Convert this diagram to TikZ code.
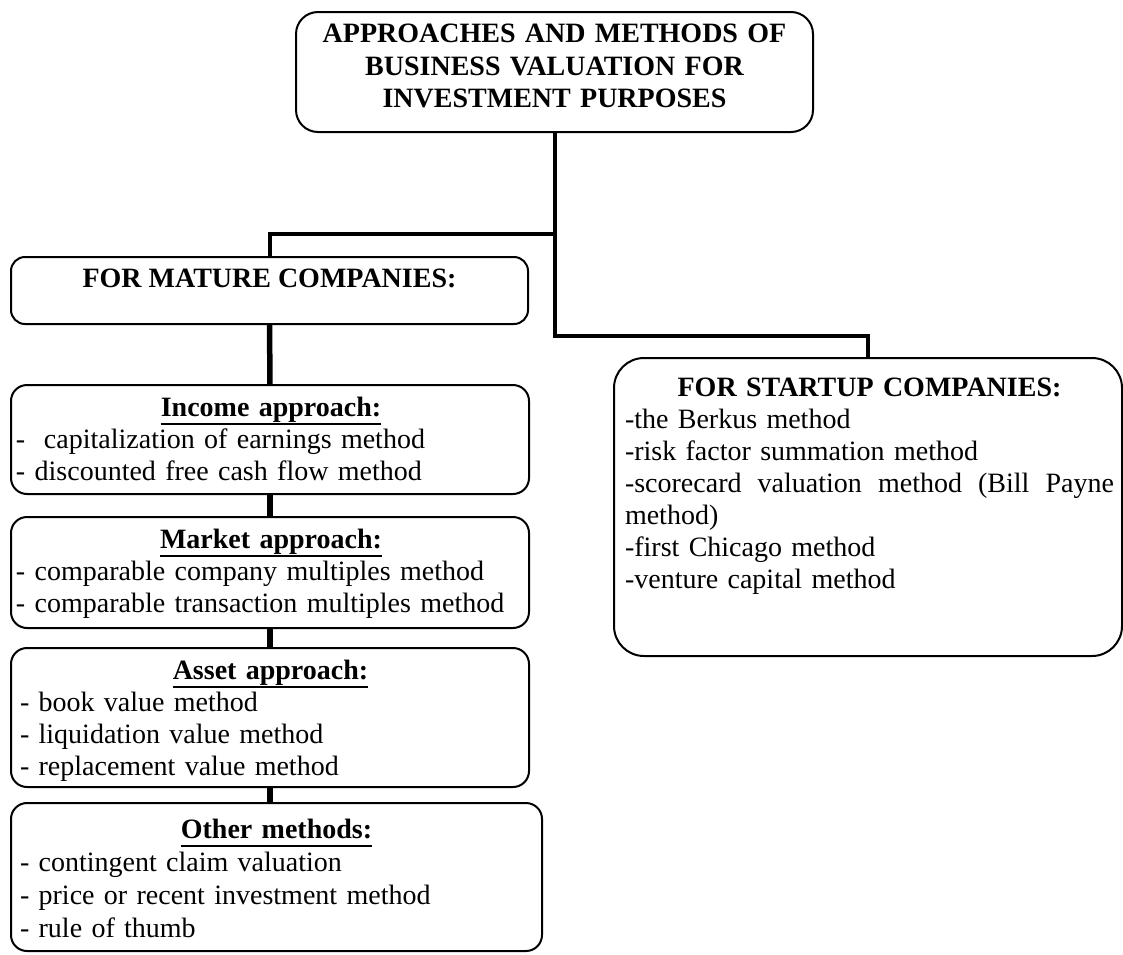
\documentclass[tikz,border=0pt]{standalone}
\usepackage{fontspec}
\setmainfont{Liberation Serif}
\newsavebox\ulsave
\newcommand\ulbox[1]{\sbox\ulsave{#1}\rlap{\rule[-8.5pt]{\wd\ulsave}{1.8pt}}\usebox\ulsave}
\tikzset{
  box/.style={draw, line width=2pt, rounded corners=16pt, inner sep=0pt, outer sep=0pt, anchor=north west},
  conn/.style={line width=4pt},
  stem/.style={line width=5.5pt},
  txt/.style={inner sep=0pt, outer sep=0pt, align=left, font=\fontsize{28}{32}\selectfont},
}
\begin{document}
\begin{tikzpicture}[x=1pt,y=-1pt]
\fill[white] (0,0) rectangle (1123,954);
\useasboundingbox (0,0) rectangle (1123,954);

% boxes
\node[box, rounded corners=22pt, minimum width=517pt, minimum height=120pt] (top) at (296,12) {};
\node[box, rounded corners=14pt, minimum width=517pt, minimum height=67pt] (mature) at (11,257) {};
\node[box, minimum width=518pt, minimum height=109pt] (income) at (11,385) {};
\node[box, minimum width=518pt, minimum height=111pt] (market) at (11,517) {};
\node[box, minimum width=518pt, minimum height=139pt] (asset) at (11,648) {};
\node[box, minimum width=531pt, minimum height=148pt] (other) at (11,803) {};
\node[box, rounded corners=30pt, minimum width=508pt, minimum height=298pt] (startup) at (614,358) {};

% texts
\node[txt, anchor=north, text width=510pt, align=center, font=\fontsize{28}{32.5}\selectfont\bfseries] (top-t) at (554.5,20)
  {\strut APPROACHES AND METHODS OF\\BUSINESS VALUATION FOR\\INVESTMENT PURPOSES};
\node[txt, anchor=north, font=\fontsize{28}{32}\selectfont\bfseries] (mature-t) at (269.5,264.6)
  {\strut FOR MATURE COMPANIES:};
\node[txt, anchor=north west, text width=510pt] (income-t) at (16,394.1)
  {\strut\makebox[\linewidth]{\ulbox{\textbf{Income approach:}}}\\
   -\ \ capitalization of earnings method\\
   - discounted free cash flow method};
\node[txt, anchor=north west, text width=510pt] (market-t) at (16,526.1)
  {\strut\makebox[\linewidth]{\ulbox{\textbf{Market approach:}}}\\
   - comparable company multiples method\\
   - comparable transaction multiples method};
\node[txt, anchor=north west, text width=505pt] (asset-t) at (20,657.1)
  {\strut\makebox[\linewidth][c]{\hspace*{-4pt}\ulbox{\textbf{Asset approach:}}}\\
   - book value method\\
   - liquidation value method\\
   - replacement value method};
\node[txt, anchor=north west, text width=513pt, font=\fontsize{28}{33}\selectfont] (other-t) at (20,815.5)
  {\strut\makebox[\linewidth]{\ulbox{\textbf{Other methods:}}}\\
   - contingent claim valuation\\
   - price or recent investment method\\
   - rule of thumb};
\node[txt, anchor=north west, text width=489pt] (startup-t) at (625,374.1)
  {\strut\makebox[\linewidth]{\textbf{FOR STARTUP COMPANIES:}}\\
   -the Berkus method\\
   -risk factor summation method\\
   \leavevmode\hbox to \linewidth{-scorecard\hfill valuation\hfill method\hfill (Bill\hfill Payne}\\
   method)\\
   -first Chicago method\\
   -venture capital method};

% connectors
\coordinate (j1) at (554.5,234);
\coordinate (j2) at (554.5,335.5);
\draw[conn] (top.south) -- (j1) -| (mature.north);
\draw[conn] (j1) -- (j2) -| (startup.north);
\draw[stem] (mature.south) -- (income.north);
\draw[stem] (income.south) -- (market.north);
\draw[stem] (market.south) -- (asset.north);
\draw[stem] (asset.south) -- (asset.south |- other.north);
\end{tikzpicture}
\end{document}
